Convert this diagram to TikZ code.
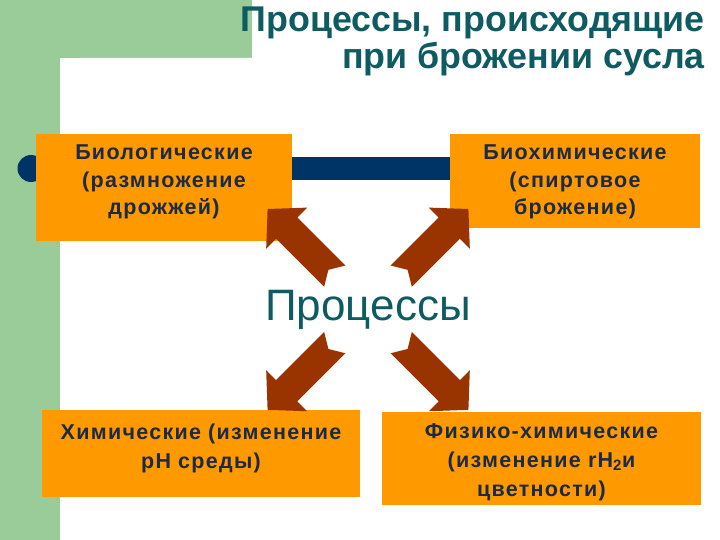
\documentclass[tikz,border=0pt]{standalone}
\usepackage{fontspec}
\setmainfont{Liberation Sans}
\newfontfamily\boxfont{Liberation Sans}[LetterSpace=6]
\definecolor{slidegreen}{HTML}{99CC99}
\definecolor{barnavy}{HTML}{003366}
\definecolor{boxorange}{HTML}{FF9900}
\definecolor{boxtext}{HTML}{1C2A48}
\definecolor{titleteal}{HTML}{0E5C62}
\definecolor{arrowbrown}{HTML}{993300}
\tikzset{
  procbox/.style={fill=boxorange,text=boxtext,align=center,inner sep=0pt,anchor=base,
    font=\boxfont\bfseries\fontsize{21.5}{29}\selectfont},
  blockarrow/.style={fill=arrowbrown},
}
\begin{document}
\begin{tikzpicture}[x=1pt,y=-1pt]
\useasboundingbox (0,0) rectangle (720,540);
\fill[white](0,0) rectangle (720,540);
\fill[slidegreen](0,0) rectangle (252,58);
\fill[slidegreen](0,0) rectangle (60,540);
\fill[white](60,540)--(60,78) arc[start angle=180,end angle=270,radius=20]--(720,58)--(720,540)--cycle;
% title
\node[anchor=north east,align=right,inner sep=0pt,text=titleteal,font=\bfseries\fontsize{35.8}{37}\selectfont] (title) at (705,7) {Процессы, происходящие\\при брожении сусла};
% bar behind the upper boxes
\fill[barnavy](31,157) rectangle (450,180);
\fill[barnavy](31,168.5) circle[radius=13.5];
% boxes: anchored on the first baseline
\node[procbox,text width=256pt,text height=26pt,text depth=81pt,font=\boxfont\bfseries\fontsize{21.5}{27.5}\selectfont] (bio) at (164,160) {Биологические\\(размножение\\дрожжей)};
\node[procbox,text width=250pt,text height=26pt,text depth=68pt,font=\boxfont\bfseries\fontsize{21.5}{27.5}\selectfont] (biochem) at (575,160) {Биохимические\\(спиртовое\\брожение)};
\node[procbox,text width=318pt,text height=29pt,text depth=58pt] (chem) at (201,439) {Химические (изменение\\pH среды)};
\node[procbox,text width=319pt,text height=26pt,text depth=67pt] (phys) at (541.5,438) {Физико-химические\\(изменение rH\textsubscript{2}и\\цветности)};
\node[anchor=base,inner sep=0pt,text=titleteal,font=\fontsize{44}{48}\selectfont] (proc) at (368,320) {Процессы};
% four block arrows out of the centre
\foreach \ang in {45,135,225,315}
  \fill[blockarrow,shift={(proc.center)},rotate=\ang](47,15)--(115,15)--(115,29)--(142,0)--(115,-29)--(115,-15)--(47,-15)--(56,0)--cycle;
\end{tikzpicture}
\end{document}
